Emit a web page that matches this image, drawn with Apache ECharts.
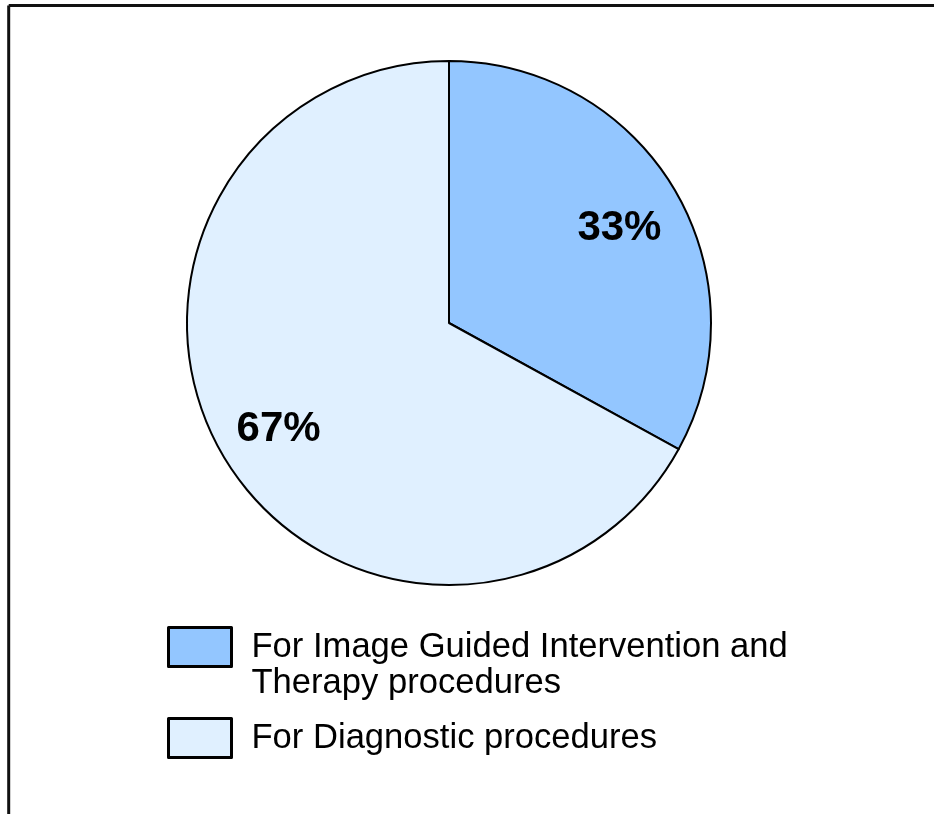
<!DOCTYPE html>
<html><head><meta charset="utf-8">
<script src="https://cdn.jsdelivr.net/npm/echarts@6/dist/echarts.min.js"></script>
<style>html,body{margin:0;padding:0;background:#fff}#c{width:934px;height:814px}</style>
</head><body><div id="c"></div>
<script>
const categories = ['For Image Guided Intervention and\nTherapy procedures', 'For Diagnostic procedures'];
const values = [33, 67];
const colors = ['#93C6FF', '#E0F0FF'];

const chart = echarts.init(document.getElementById('c'), null, {renderer: 'canvas'});
const data = categories.map((n, i) => ({name: n, value: values[i], itemStyle: {color: colors[i]}}));
const center = [449, 323];
const R = 262;
const legendCommon = {
  orient: 'vertical', left: 167, itemWidth: 63, itemHeight: 39, selectedMode: false,
  icon: 'rect', padding: 0,
  itemStyle: {borderColor: '#000', borderWidth: 3},
};
chart.setOption({
  animation: false,
  backgroundColor: '#fff',
  legend: [
    Object.assign({}, legendCommon, {data: [categories[0]], top: 593,
      formatter: name => '\n' + name,
      textStyle: {fontFamily: 'Liberation Sans', fontSize: 34.6, color: '#000', lineHeight: 36, padding: [0, 0, 0, 15]}}),
    Object.assign({}, legendCommon, {data: [categories[1]], top: 717,
      textStyle: {fontFamily: 'Liberation Sans', fontSize: 34.6, color: '#000', lineHeight: 36, padding: [0, 0, 0, 15]}})
  ],
  graphic: [
    {type: 'line', shape: {x1: 8.7, y1: 5.5, x2: 934, y2: 5.5}, style: {stroke: '#111', lineWidth: 3}},
    {type: 'line', shape: {x1: 8.7, y1: 5.5, x2: 8.7, y2: 814}, style: {stroke: '#111', lineWidth: 3}}
  ],
  series: [
    {
      type: 'pie', center: center, radius: R, startAngle: 90, clockwise: true,
      data: data, silent: true,
      itemStyle: {borderColor: '#000', borderWidth: 2},
      label: {show: false}, labelLine: {show: false}
    },
    {
      type: 'pie', center: center, radius: [128, R], startAngle: 90, clockwise: true,
      data: data.map(d => ({name: d.name, value: d.value, itemStyle: {color: 'rgba(0,0,0,0)'}})),
      silent: true, itemStyle: {borderWidth: 0},
      label: {show: true, position: 'inside', formatter: '{c}%', fontFamily: 'Liberation Sans', fontWeight: 'bold', fontSize: 42, color: '#000'},
      labelLayout: {dy: 6},
      labelLine: {show: false}
    }
  ]
});
</script></body></html>
